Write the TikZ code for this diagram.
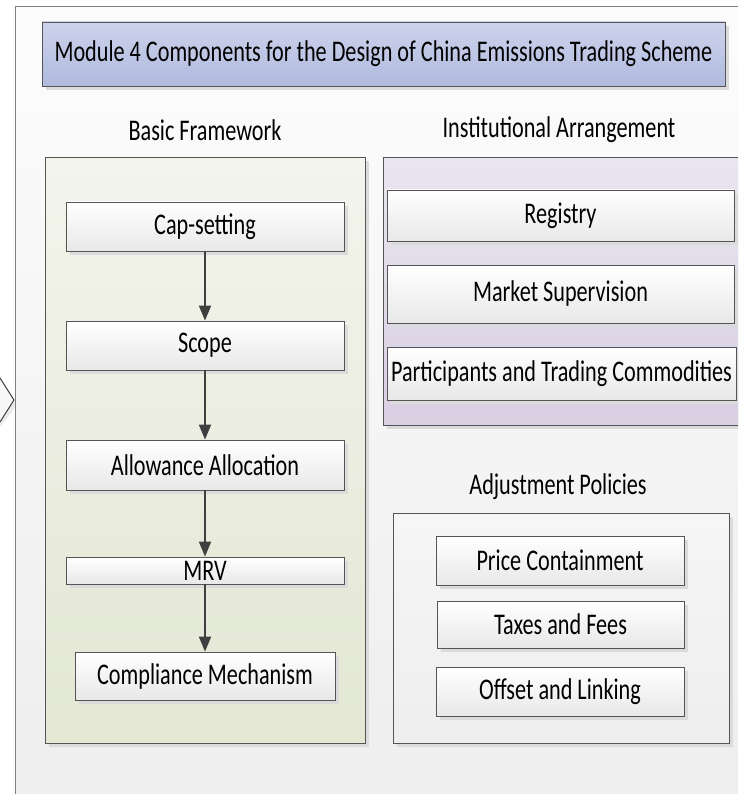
\documentclass[tikz,border=0pt]{standalone}
\usepackage{fontspec}
\setmainfont{Carlito}[FakeStretch=0.74]
\usetikzlibrary{arrows.meta,shadows}
\definecolor{edge}{HTML}{555555}
\definecolor{arrowc}{HTML}{3F3F3F}
\tikzset{
  shadowed/.style={drop shadow={shadow xshift=4pt,shadow yshift=-4pt,fill=black!14,opacity=1}},
  panel/.style={draw=edge,line width=0.9pt,inner sep=0pt,shadowed},
  itembox/.style={draw=edge,line width=0.8pt,top color=white,bottom color=black!9,inner sep=0pt,
     font=\fontsize{30}{32}\selectfont,shadowed},
  lbl/.style={font=\fontsize{30}{32}\selectfont,inner sep=0pt},
  flow/.style={draw=arrowc,line width=1.8pt,-{Triangle[width=12pt,length=15pt]}}
}
\begin{document}
\begin{tikzpicture}[x=1pt,y=-1pt]
\useasboundingbox (0,0) rectangle (738,794);
\clip (0,0) rectangle (738,794);
% chevron behind the outer panel
\coordinate (ch1) at (0,378);
\coordinate (ch2) at (14,400);
\coordinate (ch3) at (0,422);
\fill[black!8] (0,383) -- (17,405) -- (0,427) -- cycle;
\fill[white!97!black] (ch1) -- (ch2) -- (ch3) -- cycle;
\draw[arrowc,line width=1pt] (ch1) -- (ch2) -- (ch3);
% outer panel
\node[draw=black!50,line width=1pt,top color=white!99!black,bottom color=black!7,
      minimum width=760pt,minimum height=820pt,inner sep=0pt,anchor=north west] (outer) at (15,6) {};
% title
\node[panel,top color={rgb,255:red,205;green,211;blue,236},bottom color={rgb,255:red,176;green,186;blue,222},
      minimum width=683pt,minimum height=64pt,font=\fontsize{30}{32}\selectfont] (title) at (383.5,54)
      {\raisebox{-3pt}{Module 4 Components for the Design of China Emissions Trading Scheme}};
% section labels
\node[lbl] (lbasic) at (205,130) {Basic Framework};
\node[lbl] (linst) at (559,130) {Institutional Arrangement};
\node[lbl] (ladj) at (558,487) {Adjustment Policies};
% panels
\node[panel,top color={rgb,255:red,243;green,244;blue,236},bottom color={rgb,255:red,227;green,231;blue,212},
      minimum width=320pt,minimum height=586pt,anchor=north west] (basic) at (45,157) {};
\node[panel,top color={rgb,255:red,234;green,229;blue,240},bottom color={rgb,255:red,216;green,207;blue,226},
      minimum width=380pt,minimum height=268pt,anchor=north west] (inst) at (383,157) {};
\node[panel,top color={rgb,255:red,246;green,246;blue,246},bottom color={rgb,255:red,238;green,238;blue,238},
      minimum width=336pt,minimum height=230pt,anchor=north west] (adj) at (393,513) {};
% basic framework boxes
\node[itembox,minimum width=278pt,minimum height=49pt] (cap) at (205,226.5) {Cap-setting};
\node[itembox,minimum width=278pt,minimum height=49pt] (scope) at (205,345.5) {Scope};
\node[itembox,minimum width=278pt,minimum height=50pt] (alloc) at (205,465) {Allowance Allocation};
\node[itembox,minimum width=278pt,minimum height=27pt] (mrv) at (205,570.5) {MRV};
\node[itembox,minimum width=260pt,minimum height=48pt] (comp) at (205,676) {Compliance Mechanism};
\draw[flow] (cap.south) -- (scope.north);
\draw[flow] (scope.south) -- (alloc.north);
\draw[flow] (alloc.south) -- (mrv.north);
\draw[flow] (mrv.south) -- (comp.north);
% institutional boxes
\node[itembox,minimum width=347pt,minimum height=51pt] (reg) at (560.5,215.5) {Registry};
\node[itembox,minimum width=347pt,minimum height=58pt] (sup) at (560.5,294) {Market Supervision};
\node[itembox,minimum width=349pt,minimum height=53pt] (part) at (561.5,373.5) {Participants and Trading Commodities};
% adjustment boxes
\node[itembox,minimum width=248pt,minimum height=49pt] (price) at (560,560.5) {Price Containment};
\node[itembox,minimum width=247pt,minimum height=47pt] (tax) at (560.5,624.5) {Taxes and Fees};
\node[itembox,minimum width=248pt,minimum height=49pt] (off) at (560,691.5) {Offset and Linking};
\end{tikzpicture}
\end{document}
